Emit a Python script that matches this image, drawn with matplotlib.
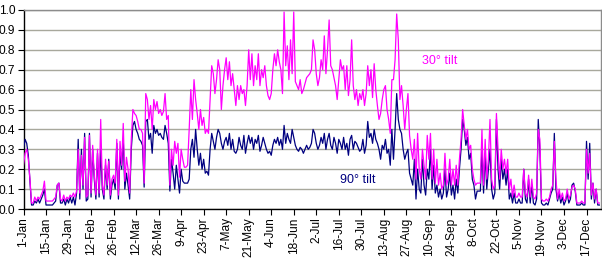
import matplotlib
matplotlib.use("Agg")
import matplotlib.pyplot as plt
import numpy as np

# Daily values (fraction)
tilt90 = [
    0.30, 0.35, 0.33, 0.27, 0.14, 0.02, 0.02, 0.04, 0.03, 0.05,
    0.03, 0.05, 0.07, 0.10, 0.02, 0.02, 0.02, 0.02, 0.02, 0.03,
    0.04, 0.12, 0.13, 0.03, 0.03, 0.05, 0.02, 0.05, 0.03, 0.06,
    0.03, 0.06, 0.02, 0.08, 0.35, 0.05, 0.30, 0.10, 0.38, 0.04,
    0.05, 0.38, 0.06, 0.30, 0.15, 0.05, 0.28, 0.06, 0.30, 0.10,
    0.05, 0.22, 0.10, 0.25, 0.05, 0.12, 0.15, 0.10, 0.33, 0.05,
    0.28, 0.20, 0.35, 0.10, 0.18, 0.12, 0.05, 0.30, 0.42, 0.44,
    0.40, 0.38, 0.35, 0.34, 0.32, 0.11, 0.44, 0.45, 0.35, 0.38,
    0.28, 0.42, 0.38, 0.40, 0.37, 0.38, 0.36, 0.35, 0.42, 0.38,
    0.33, 0.09, 0.25, 0.18, 0.10, 0.22, 0.15, 0.08, 0.20, 0.14,
    0.13, 0.13, 0.13, 0.15, 0.30, 0.35, 0.26, 0.40, 0.30, 0.22,
    0.28, 0.20, 0.25, 0.18, 0.19, 0.17, 0.30, 0.38, 0.34, 0.30,
    0.36, 0.40, 0.38, 0.33, 0.30, 0.34, 0.36, 0.32, 0.38, 0.30,
    0.35, 0.29, 0.28, 0.30, 0.36, 0.32, 0.30, 0.37, 0.28, 0.33,
    0.37, 0.33, 0.36, 0.30, 0.35, 0.33, 0.37, 0.29, 0.32, 0.36,
    0.33, 0.30, 0.28, 0.29, 0.27, 0.32, 0.35, 0.33, 0.36, 0.32,
    0.35, 0.30, 0.42, 0.33, 0.38, 0.35, 0.33, 0.40, 0.36, 0.32,
    0.30, 0.29, 0.31, 0.30, 0.28, 0.30, 0.32, 0.30, 0.31, 0.33,
    0.40, 0.38, 0.33, 0.30, 0.32, 0.36, 0.33, 0.38, 0.30, 0.35,
    0.38, 0.32, 0.30, 0.36, 0.33, 0.28, 0.35, 0.33, 0.30, 0.36,
    0.30, 0.33, 0.27, 0.35, 0.37, 0.30, 0.34, 0.33, 0.31, 0.29,
    0.30, 0.35, 0.28, 0.32, 0.44, 0.36, 0.38, 0.33, 0.40, 0.35,
    0.33, 0.30, 0.25, 0.32, 0.30, 0.35, 0.28, 0.30, 0.22, 0.40,
    0.25, 0.40, 0.58, 0.45, 0.40, 0.38, 0.30, 0.25, 0.28, 0.30,
    0.18, 0.15, 0.12, 0.25, 0.05, 0.20, 0.10, 0.08, 0.25, 0.12,
    0.07, 0.20, 0.15, 0.30, 0.10, 0.22, 0.08, 0.12, 0.06, 0.10,
    0.05, 0.08, 0.20, 0.06, 0.10, 0.18, 0.07, 0.12, 0.05, 0.15,
    0.08, 0.20, 0.30, 0.45, 0.40, 0.32, 0.36, 0.25, 0.28, 0.15,
    0.12, 0.05, 0.09, 0.09, 0.09, 0.30, 0.08, 0.28, 0.10, 0.20,
    0.30, 0.10, 0.05, 0.08, 0.45, 0.20, 0.10, 0.25, 0.15, 0.20,
    0.12, 0.20, 0.05, 0.08, 0.03, 0.08, 0.03, 0.03, 0.05, 0.03,
    0.03, 0.20, 0.05, 0.03, 0.15, 0.03, 0.12, 0.03, 0.02, 0.05,
    0.45, 0.30, 0.03, 0.02, 0.02, 0.03, 0.02, 0.05, 0.08, 0.10,
    0.38, 0.10, 0.04, 0.08, 0.03, 0.06, 0.02, 0.04, 0.08, 0.03,
    0.05, 0.12, 0.13, 0.09, 0.02, 0.02, 0.02, 0.03, 0.02, 0.02,
    0.34, 0.15, 0.33, 0.05, 0.13, 0.03, 0.10, 0.02, 0.02,
]

tilt30 = [
    0.22, 0.28, 0.30, 0.25, 0.15, 0.03, 0.03, 0.06, 0.04, 0.06,
    0.05, 0.07, 0.09, 0.14, 0.04, 0.04, 0.04, 0.04, 0.04, 0.05,
    0.06, 0.12, 0.13, 0.05, 0.04, 0.07, 0.04, 0.06, 0.05, 0.07,
    0.06, 0.08, 0.06, 0.09, 0.30, 0.08, 0.27, 0.12, 0.36, 0.06,
    0.07, 0.37, 0.08, 0.32, 0.17, 0.07, 0.30, 0.08, 0.45, 0.12,
    0.07, 0.25, 0.12, 0.24, 0.07, 0.15, 0.17, 0.13, 0.35, 0.07,
    0.34, 0.22, 0.43, 0.14, 0.26, 0.20, 0.08, 0.35, 0.50, 0.48,
    0.47, 0.44, 0.40, 0.40, 0.38, 0.13, 0.58, 0.55, 0.45, 0.52,
    0.40, 0.55, 0.50, 0.54, 0.48, 0.50, 0.47, 0.49, 0.58, 0.45,
    0.47, 0.12, 0.30, 0.22, 0.34, 0.28, 0.33, 0.16, 0.30, 0.25,
    0.21, 0.21, 0.22, 0.40, 0.60, 0.45, 0.65, 0.55, 0.48, 0.40,
    0.50, 0.42, 0.46, 0.38, 0.40, 0.38, 0.55, 0.72, 0.68, 0.58,
    0.65, 0.75, 0.70, 0.50, 0.62, 0.70, 0.76, 0.65, 0.74, 0.62,
    0.68, 0.60, 0.52, 0.62, 0.55, 0.62, 0.58, 0.60, 0.52, 0.62,
    0.80, 0.65, 0.78, 0.62, 0.72, 0.65, 0.78, 0.62, 0.70, 0.66,
    0.72, 0.62, 0.57, 0.55, 0.58, 0.70, 0.78, 0.72, 0.80, 0.74,
    0.70, 0.58, 0.99, 0.72, 0.82, 0.65, 0.85, 0.68, 0.99, 0.64,
    0.62, 0.60, 0.65, 0.58, 0.60, 0.63, 0.66, 0.67, 0.68, 0.70,
    0.85, 0.80, 0.68, 0.62, 0.66, 0.75, 0.70, 0.87, 0.68, 0.80,
    0.95, 0.72, 0.70, 0.66, 0.62, 0.55, 0.65, 0.75, 0.70, 0.72,
    0.60, 0.72, 0.57, 0.65, 0.85, 0.62, 0.55, 0.60, 0.52, 0.58,
    0.55, 0.60, 0.52, 0.58, 0.72, 0.62, 0.70, 0.56, 0.73, 0.60,
    0.52, 0.45, 0.48, 0.55, 0.60, 0.62, 0.50, 0.45, 0.38, 0.65,
    0.65, 0.75, 0.98, 0.85, 0.55, 0.62, 0.52, 0.40, 0.50, 0.58,
    0.37, 0.30, 0.25, 0.35, 0.15, 0.38, 0.20, 0.15, 0.30, 0.22,
    0.15, 0.37, 0.25, 0.38, 0.15, 0.30, 0.13, 0.25, 0.12, 0.18,
    0.10, 0.12, 0.28, 0.12, 0.15, 0.25, 0.12, 0.20, 0.12, 0.22,
    0.12, 0.25, 0.35, 0.50, 0.42, 0.35, 0.40, 0.30, 0.32, 0.20,
    0.15, 0.12, 0.13, 0.13, 0.13, 0.40, 0.12, 0.35, 0.15, 0.25,
    0.45, 0.15, 0.10, 0.12, 0.48, 0.30, 0.15, 0.30, 0.20, 0.25,
    0.18, 0.25, 0.10, 0.15, 0.06, 0.12, 0.06, 0.06, 0.08, 0.06,
    0.06, 0.20, 0.08, 0.06, 0.17, 0.06, 0.15, 0.06, 0.05, 0.08,
    0.40, 0.35, 0.05, 0.04, 0.04, 0.05, 0.04, 0.06, 0.10, 0.12,
    0.34, 0.15, 0.05, 0.10, 0.05, 0.08, 0.04, 0.05, 0.10, 0.05,
    0.07, 0.11, 0.12, 0.10, 0.03, 0.03, 0.03, 0.04, 0.03, 0.03,
    0.30, 0.18, 0.28, 0.07, 0.13, 0.05, 0.10, 0.03, 0.03,
]

tick_labels = ['1-Jan', '15-Jan', '29-Jan', '12-Feb', '26-Feb', '12-Mar', '26-Mar',
               '9-Apr', '23-Apr', '7-May', '21-May', '4-Jun', '18-Jun', '2-Jul',
               '16-Jul', '30-Jul', '13-Aug', '27-Aug', '10-Sep', '24-Sep', '8-Oct',
               '22-Oct', '5-Nov', '19-Nov', '3-Dec', '17-Dec']
tick_step = 14
y_ticks = [round(0.1 * i, 1) for i in range(11)]

plt.rcParams['font.family'] = ['Liberation Sans', 'DejaVu Sans']

W, H = 602, 264
fig = plt.figure(figsize=(W / 100, H / 100), dpi=100)
ax = fig.add_axes([23.5 / W, (H - 209) / H, (600.5 - 23.5) / W, (209 - 10) / H])

days = np.arange(len(tilt90))
ax.plot(days, tilt90, color='#000080', lw=0.9, zorder=3)
ax.plot(days, tilt30, color='#FF00FF', lw=0.9, zorder=4)

ax.set_xlim(0, 358.7)
ax.set_ylim(0, 1.0)

ax.set_yticks(y_ticks)
ax.set_yticklabels([f"{v:.1f}" for v in y_ticks], fontsize=8.6)
ax.set_xticks(np.arange(len(tick_labels)) * tick_step)
ax.set_xticklabels(tick_labels, rotation=90, fontsize=8.6)
ax.tick_params(axis='both', length=4, width=0.8, color='black', pad=2)

ax.grid(axis='y', color='#a8a89c', lw=1.0, zorder=1)
ax.set_axisbelow(True)

for s in ['left', 'bottom']:
    ax.spines[s].set_color('black')
    ax.spines[s].set_linewidth(1.0)
for s in ['top', 'right']:
    ax.spines[s].set_color('#8c8c8c')
    ax.spines[s].set_linewidth(1.0)

ax.text(259, 0.745, '30° tilt', color='#FF00FF', fontsize=9, ha='center', va='center')
ax.text(208, 0.146, '90° tilt', color='#000080', fontsize=9, ha='center', va='center')

fig.savefig('out.png', dpi=100)
